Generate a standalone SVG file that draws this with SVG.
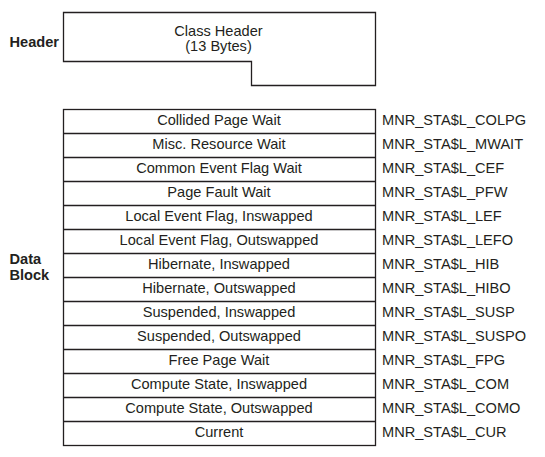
<svg xmlns="http://www.w3.org/2000/svg" width="545" height="457" viewBox="0 0 545 457">
<style>
.box{fill:#fff;stroke:#231f20;stroke-width:1.3}
.t{font-family:"Liberation Sans",Arial,sans-serif;font-size:14.6px;fill:#231f20;text-anchor:middle}
.f{font-family:"Liberation Sans",Arial,sans-serif;font-size:14.6px;fill:#231f20}
.b{font-family:"Liberation Sans",Arial,sans-serif;font-size:14.6px;font-weight:bold;fill:#231f20}
</style>
<rect width="545" height="457" fill="#fff"/>
<g id="labels">
<text class="b" x="9.5" y="47">Header</text>
<text class="b" x="9.5" y="264">Data</text>
<text class="b" x="9.5" y="279.5">Block</text>
</g>
<g id="header">
<path class="box" d="M63.5 12.5H375.5V85.5H251.5V61.5H63.5Z"/>
<text class="t" x="218.5" y="35.7">Class Header</text>
<text class="t" x="218.5" y="50.7">(13 Bytes)</text>
</g>
<g id="datablock">
<rect class="box" x="63.5" y="109.5" width="312" height="336"/>
<g stroke="#231f20" stroke-width="1.3">
<line x1="63.5" y1="133.5" x2="375.5" y2="133.5"/>
<line x1="63.5" y1="157.5" x2="375.5" y2="157.5"/>
<line x1="63.5" y1="181.5" x2="375.5" y2="181.5"/>
<line x1="63.5" y1="205.5" x2="375.5" y2="205.5"/>
<line x1="63.5" y1="229.5" x2="375.5" y2="229.5"/>
<line x1="63.5" y1="253.5" x2="375.5" y2="253.5"/>
<line x1="63.5" y1="277.5" x2="375.5" y2="277.5"/>
<line x1="63.5" y1="301.5" x2="375.5" y2="301.5"/>
<line x1="63.5" y1="325.5" x2="375.5" y2="325.5"/>
<line x1="63.5" y1="349.5" x2="375.5" y2="349.5"/>
<line x1="63.5" y1="373.5" x2="375.5" y2="373.5"/>
<line x1="63.5" y1="397.5" x2="375.5" y2="397.5"/>
<line x1="63.5" y1="421.5" x2="375.5" y2="421.5"/>
</g>
<text class="t" x="219" y="125">Collided Page Wait</text>
<text class="t" x="219" y="149">Misc. Resource Wait</text>
<text class="t" x="219" y="173">Common Event Flag Wait</text>
<text class="t" x="219" y="197">Page Fault Wait</text>
<text class="t" x="219" y="221">Local Event Flag, Inswapped</text>
<text class="t" x="219" y="245">Local Event Flag, Outswapped</text>
<text class="t" x="219" y="269">Hibernate, Inswapped</text>
<text class="t" x="219" y="293">Hibernate, Outswapped</text>
<text class="t" x="219" y="317">Suspended, Inswapped</text>
<text class="t" x="219" y="341">Suspended, Outswapped</text>
<text class="t" x="219" y="365">Free Page Wait</text>
<text class="t" x="219" y="389">Compute State, Inswapped</text>
<text class="t" x="219" y="413">Compute State, Outswapped</text>
<text class="t" x="219" y="437">Current</text>
</g>
<g id="names">
<text class="f" x="382" y="125">MNR_STA$L_COLPG</text>
<text class="f" x="382" y="149">MNR_STA$L_MWAIT</text>
<text class="f" x="382" y="173">MNR_STA$L_CEF</text>
<text class="f" x="382" y="197">MNR_STA$L_PFW</text>
<text class="f" x="382" y="221">MNR_STA$L_LEF</text>
<text class="f" x="382" y="245">MNR_STA$L_LEFO</text>
<text class="f" x="382" y="269">MNR_STA$L_HIB</text>
<text class="f" x="382" y="293">MNR_STA$L_HIBO</text>
<text class="f" x="382" y="317">MNR_STA$L_SUSP</text>
<text class="f" x="382" y="341">MNR_STA$L_SUSPO</text>
<text class="f" x="382" y="365">MNR_STA$L_FPG</text>
<text class="f" x="382" y="389">MNR_STA$L_COM</text>
<text class="f" x="382" y="413">MNR_STA$L_COMO</text>
<text class="f" x="382" y="437">MNR_STA$L_CUR</text>
</g>
<g id="connectors"></g>
</svg>
